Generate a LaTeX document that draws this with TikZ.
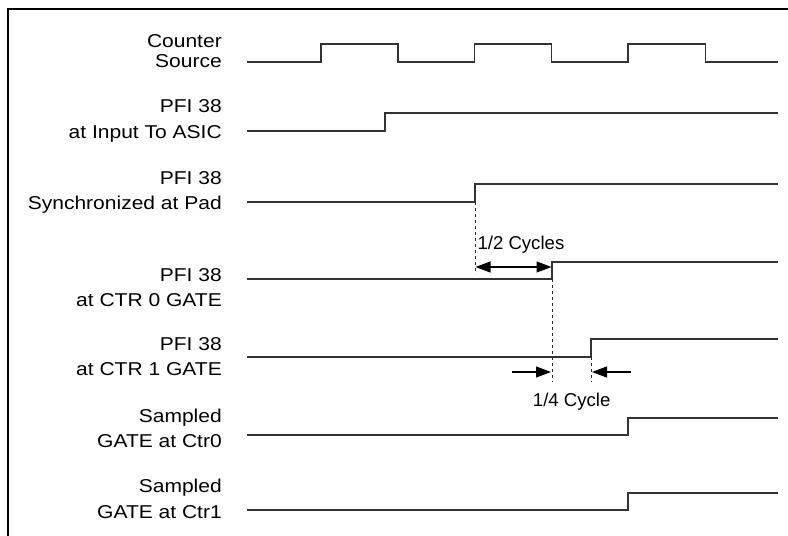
\documentclass[tikz,border=0pt]{standalone}
\usepackage{fontspec}
\setmainfont{Liberation Sans}
\usetikzlibrary{arrows.meta}
\begin{document}
\begin{tikzpicture}[x=1pt,y=-1pt,
  sig/.style={line width=1.2pt, draw=black!80, line join=miter},
  lbl/.style={anchor=base east, inner sep=0pt, font=\fontsize{18.6}{22}\selectfont, xscale=1.13, text=black},
  note/.style={inner sep=0pt, font=\fontsize{18.6}{22}\selectfont, text=black},
  guide/.style={line width=1pt, dash pattern=on 3pt off 3pt, draw=black!85},
  tip/.tip={Triangle[length=15pt,width=11pt]},
  dimarrow/.style={line width=1.1pt, draw=black, -tip},
  frameline/.style={line width=2pt, draw=black},
]
\useasboundingbox (0,0) rectangle (788,536);
% frame
\draw[frameline] (788,9) -- (8,9) -- (8,536);

% labels
\node[lbl] (l1a) at (222,47.3) {Counter};
\node[lbl] (l1b) at (222,67.8) {Source};
\node[lbl] (l2a) at (222,112.7) {PFI 38};
\node[lbl] (l2b) at (222,138.2) {at Input To ASIC};
\node[lbl] (l3a) at (222,184) {PFI 38};
\node[lbl] (l3b) at (222,209.8) {Synchronized at Pad};
\node[lbl] (l4a) at (222,281.7) {PFI 38};
\node[lbl] (l4b) at (222,306.2) {at CTR 0 GATE};
\node[lbl] (l5a) at (222,350) {PFI 38};
\node[lbl] (l5b) at (222,375.5) {at CTR 1 GATE};
\node[lbl] (l6a) at (222,422.3) {Sampled};
\node[lbl] (l6b) at (222,447.7) {GATE at Ctr0};
\node[lbl] (l7a) at (222,492.3) {Sampled};
\node[lbl] (l7b) at (222,518.3) {GATE at Ctr1};

% waveforms
\draw[sig] (247,62) -- (321,62) -- (321,44) -- (398,44) -- (398,62) -- (474.5,62) -- (474.5,44)
  -- (551.5,44) -- (551.5,62) -- (628,62) -- (628,44) -- (705.5,44) -- (705.5,62) -- (778,62);
\draw[sig] (247,131) -- (385,131) -- (385,113) -- (778,113);
\draw[sig] (247,202) -- (475,202) -- (475,184) -- (778,184);
\draw[sig] (247,279) -- (552,279) -- (552,262) -- (778,262);
\draw[sig] (247,357) -- (591,357) -- (591,339) -- (778,339);
\draw[sig] (247,435) -- (628,435) -- (628,418) -- (778,418);
\draw[sig] (247,510) -- (628,510) -- (628,493) -- (778,493);

% guide coordinates
\coordinate (g1t) at (475,202);
\coordinate (g1b) at (475,274);
\coordinate (g2t) at (552,279);
\coordinate (g2b) at (552,382);
\coordinate (g3t) at (591,357);
\coordinate (g3b) at (591,382);
\draw[guide] (g1t) -- (g1b);
\draw[guide] (g2t) -- (g2b);
\draw[guide] (g3t) -- (g3b);

% 1/2 cycles
\coordinate (h1) at (475.5,267);
\coordinate (h2) at (551.5,267);
\draw[dimarrow, tip-tip] (h1) -- (h2);
\node[note, anchor=base west] (half) at (477.3,249.5) {1/2 Cycles};

% 1/4 cycle
\coordinate (q1s) at (512,372);
\coordinate (q1e) at (551,372);
\coordinate (q2s) at (631,372);
\coordinate (q2e) at (592,372);
\draw[dimarrow] (q1s) -- (q1e);
\draw[dimarrow] (q2s) -- (q2e);
\node[note, anchor=base] (quarter) at (571.7,406) {1/4 Cycle};
\end{tikzpicture}
\end{document}
